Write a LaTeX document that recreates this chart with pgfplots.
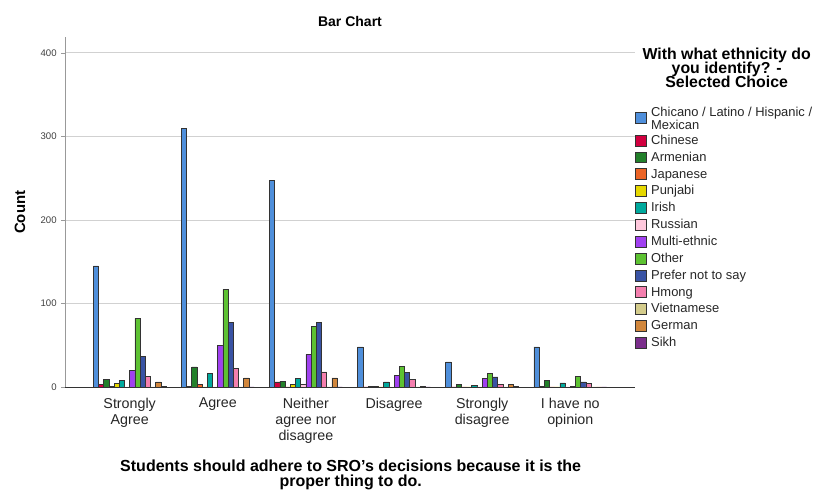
\documentclass[border=0pt]{standalone}
\usepackage{pgfplots}
\pgfplotsset{compat=1.18}
\usepackage{fontspec}
\setmainfont{Liberation Sans}
\newcommand{\tightlines}{\lineskiplimit=-6pt\relax}
\definecolor{cChicano}{HTML}{4F8FDB}
\definecolor{cChinese}{HTML}{D1003F}
\definecolor{cArmenian}{HTML}{22802A}
\definecolor{cJapanese}{HTML}{EB6426}
\definecolor{cPunjabi}{HTML}{E6D800}
\definecolor{cIrish}{HTML}{00A99D}
\definecolor{cRussian}{HTML}{FFC8DC}
\definecolor{cMulti}{HTML}{A040F0}
\definecolor{cOther}{HTML}{5DC232}
\definecolor{cPrefer}{HTML}{3953A4}
\definecolor{cHmong}{HTML}{F47FAE}
\definecolor{cViet}{HTML}{D4CC8C}
\definecolor{cGerman}{HTML}{D2873C}
\definecolor{cSikh}{HTML}{7B2E8C}
\begin{document}
\begin{tikzpicture}
\useasboundingbox (0,0) rectangle (613.5pt,368.25pt);
\begin{axis}[
  at={(49pt,78pt)}, anchor=south west,
  scale only axis, width=427.3pt, height=262.5pt,
  xmin=-0.73, xmax=5.735, ymin=0, ymax=419,
  ybar=0pt, bar width=0.059,
  axis x line*=bottom, axis y line*=left,
  x axis line style={black!80},
  y axis line style={black!40},
  ytick={0,100,200,300,400},
  ymajorgrids, grid style={black!18, line width=0.6pt},
  tick align=outside, major tick length=3pt,
  ytick style={black!40},
  major x tick style={draw=none},
  xtick={0,1,2,3,4,5},
  xticklabels={{Strongly\\Agree},Agree,{Neither\\agree nor\\disagree},Disagree,{Strongly\\disagree},{I have no\\opinion}},
  xticklabel style={align=center, font=\fontsize{10.7}{12}\selectfont, text=black!85, inner sep=1pt, yshift=-4pt},
  yticklabel style={font=\fontsize{7.2}{8}\selectfont, text=black!75},
  /pgf/number format/assume math mode=true,
  every axis plot/.append style={draw=black!80, line width=0.45pt},
  legend style={at={(1.0,0.804)}, anchor=north west, draw=none, fill=none, inner sep=0pt,
    font=\fontsize{9.7}{9}\selectfont, row sep=1.85pt, column sep=2.2pt,
    nodes={inner ysep=1pt, inner xsep=1pt, text height=6.8pt, text depth=2pt, text=black!85}},
  legend cell align=left,
  legend image code/.code={\draw[#1, draw=black!80] (0pt,-3.6pt) rectangle (8.2pt,4.6pt);},
]
\addplot[fill=cChicano] coordinates {(0,145) (1,310) (2,247) (3,48) (4,30) (5,48)};
\addlegendentry[text height=, text depth=, align=left, font=\fontsize{9.7}{9}\selectfont]{Chicano / Latino / Hispanic /\\Mexican}
\addplot[fill=cChinese] coordinates {(0,3) (1,1) (2,6) (3,0) (4,0) (5,1)};
\addlegendentry{Chinese}
\addplot[fill=cArmenian] coordinates {(0,9) (1,24) (2,7) (3,1) (4,3) (5,8)};
\addlegendentry{Armenian}
\addplot[fill=cJapanese] coordinates {(0,1) (1,3) (2,0) (3,1) (4,0) (5,0)};
\addlegendentry{Japanese}
\addplot[fill=cPunjabi] coordinates {(0,4) (1,0) (2,3) (3,0) (4,0) (5,0)};
\addlegendentry{Punjabi}
\addplot[fill=cIrish] coordinates {(0,8) (1,16) (2,10) (3,6) (4,2) (5,5)};
\addlegendentry{Irish}
\addplot[fill=cRussian] coordinates {(0,0) (1,0) (2,3) (3,0) (4,0) (5,0)};
\addlegendentry{Russian}
\addplot[fill=cMulti] coordinates {(0,20) (1,50) (2,39) (3,14) (4,10) (5,1)};
\addlegendentry{Multi-ethnic}
\addplot[fill=cOther] coordinates {(0,82) (1,117) (2,73) (3,25) (4,16) (5,13)};
\addlegendentry{Other}
\addplot[fill=cPrefer] coordinates {(0,37) (1,77) (2,77) (3,17) (4,12) (5,6)};
\addlegendentry{Prefer not to say}
\addplot[fill=cHmong] coordinates {(0,13) (1,22) (2,18) (3,9) (4,3) (5,4)};
\addlegendentry{Hmong}
\addplot[fill=cViet] coordinates {(0,0) (1,0) (2,0) (3,0) (4,0) (5,0)};
\addlegendentry{Vietnamese}
\addplot[fill=cGerman] coordinates {(0,6) (1,11) (2,11) (3,1) (4,3) (5,0)};
\addlegendentry{German}
\addplot[fill=cSikh] coordinates {(0,1) (1,0) (2,0) (3,0) (4,1) (5,0)};
\addlegendentry{Sikh}
\end{axis}
\node[font=\bfseries\fontsize{10.5}{12}\selectfont] at (262.5pt,351.75pt) {Bar Chart};
\node[font=\bfseries\fontsize{11.2}{12}\selectfont, rotate=90] at (15pt,209pt) {Count};
\node[font=\bfseries\fontsize{12}{11}\selectfont\tightlines, align=center] at (263pt,12pt) {Students should adhere to SRO’s decisions because it is the\\proper thing to do.};
\node[font=\bfseries\fontsize{11.9}{10.6}\selectfont\tightlines, align=center] at (545pt,317.3pt) {With what ethnicity do\\you identify? -\\Selected Choice};
\end{tikzpicture}
\end{document}
